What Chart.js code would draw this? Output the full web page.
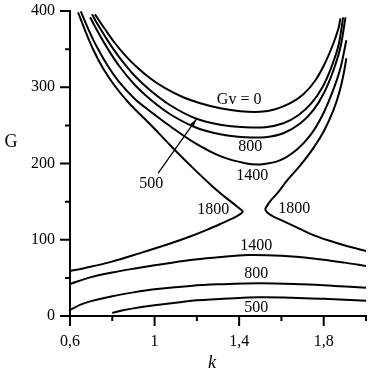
<!DOCTYPE html>
<html>
<head>
<meta charset="utf-8">
<script src="https://cdn.jsdelivr.net/npm/chart.js@4.4.0/dist/chart.umd.min.js"></script>
<style>
  body { margin: 0; background: #fff; }
</style>
</head>
<body>
<canvas id="myChart" width="372" height="371"></canvas>
<script>
// upper curves (U shape), k values and G values
const kGv0 = [0.718, 0.766, 0.813, 0.861, 0.917, 0.979, 1.05, 1.135, 1.216, 1.311, 1.405, 1.5, 1.571, 1.642, 1.704, 1.761, 1.808, 1.846, 1.87, 1.879];
const gGv0 = [395.6, 376, 357.7, 341.9, 326.2, 311.8, 298.7, 286.9, 279.1, 272.5, 268.6, 267.9, 271.2, 279.1, 290.8, 309.2, 332.8, 357.7, 377.3, 390.4];

const k500 = [0.704, 0.742, 0.79, 0.837, 0.908, 0.979, 1.074, 1.192, 1.311, 1.429, 1.524, 1.609, 1.68, 1.742, 1.794, 1.836, 1.87, 1.892];
const g500 = [395.6, 377.3, 356.3, 338, 314.4, 296.1, 276.4, 259.4, 250.9, 247.6, 247.6, 252.8, 263.3, 279.1, 300, 326.2, 355, 391.7];

const k800 = [0.695, 0.733, 0.78, 0.837, 0.908, 0.979, 1.074, 1.192, 1.311, 1.429, 1.524, 1.609, 1.69, 1.751, 1.803, 1.846, 1.879, 1.903];
const g800 = [391.7, 372.1, 349.8, 326.2, 302.6, 284.3, 264.6, 247.6, 238.4, 234.5, 234.5, 239.7, 252.8, 269.9, 293.5, 322.3, 352.4, 391.7];

const k1400 = [0.651, 0.685, 0.728, 0.78, 0.837, 0.908, 0.979, 1.074, 1.192, 1.311, 1.429, 1.51, 1.595, 1.675, 1.737, 1.794, 1.841, 1.879, 1.907];
const g1400 = [399.6, 377.3, 352.4, 327.5, 305.3, 284.3, 268.6, 248.9, 226.6, 209.6, 200.4, 199.1, 204.4, 218.8, 237.1, 263.3, 293.5, 324.9, 361.6];

// Gv = 1800 splits in two branches
const k1800a = [0.638, 0.671, 0.709, 0.756, 0.813, 0.884, 0.979, 1.083, 1.192, 1.273, 1.334, 1.382, 1.405, 1.417, 1.405, 1.377, 1.32, 1.244, 1.168, 1.074, 0.932, 0.79, 0.671, 0.6];
const g1800a = [398.3, 374.7, 349.8, 324.9, 301.3, 277.7, 251.5, 221.4, 191.3, 170.3, 155.9, 145.4, 140.2, 136.9, 133.6, 129, 121.8, 112.6, 104.2, 95, 82.5, 70.7, 62.9, 58.9];

const k1800b = [1.907, 1.893, 1.874, 1.846, 1.803, 1.751, 1.69, 1.628, 1.581, 1.547, 1.531, 1.524, 1.533, 1.562, 1.609, 1.68, 1.751, 1.832, 1.917, 2.0];
const g1800b = [338, 315.7, 293.5, 269.9, 243.7, 220.1, 197.8, 178.2, 161.1, 150.6, 144.1, 140.2, 135.6, 130.4, 124.5, 115.3, 106.1, 98.3, 91.1, 85.2];

// lower curves
const k1400low = [0.6, 0.7, 0.8, 0.9, 1.0, 1.17, 1.3, 1.44, 1.6, 1.75, 1.9, 2.0];
const g1400low = [42, 51, 57, 62, 66.5, 73.5, 77, 80, 79, 75.5, 70, 65.5];

const k800low = [0.6, 0.65, 0.7, 0.8, 0.9, 1.0, 1.17, 1.3, 1.5, 1.7, 1.85, 2.0];
const g800low = [8, 15, 19.5, 26, 31, 35, 39.5, 41.5, 43, 41.5, 39.5, 37];

const k500low = [0.8, 0.85, 0.9, 1.0, 1.1, 1.2, 1.35, 1.5, 1.65, 1.8, 2.0];
const g500low = [4, 7.5, 10, 14, 17.5, 20.5, 23, 24.5, 24, 22.5, 20];

// axis ticks
const xTicks = [0.6, 1, 1.4, 1.8];
const xMinor = [0.8, 1.2, 1.6, 2.0];
const yTicks = [0, 100, 200, 300, 400];
const yMinor = [50, 150, 250, 350];

// curve labels
const labelTexts = ['Gv = 0', '800', '1400', '500', '1800', '1800', '1400', '800', '500'];
const labelK = [1.40, 1.453, 1.462, 0.984, 1.277, 1.661, 1.481, 1.481, 1.481];
const labelG = [283, 221.4, 183.4, 172.9, 138.9, 140.2, 91.7, 55, 10.5];
const arrowK = [1.017, 1.197];
const arrowG = [187.4, 258];

const serif = '"Liberation Serif", "Times New Roman", serif';

function pts(ks, gs) {
  return ks.map((k, i) => ({ x: k, y: gs[i] }));
}

const curves = [
  [kGv0, gGv0], [k500, g500], [k800, g800], [k1400, g1400],
  [k1800a, g1800a], [k1800b, g1800b],
  [k1400low, g1400low], [k800low, g800low], [k500low, g500low]
];

const datasets = curves.map((c) => ({
  data: pts(c[0], c[1]),
  showLine: true,
  borderColor: '#000',
  borderWidth: 2,
  pointRadius: 0,
  tension: 0.35,
  fill: false
}));

// ticks, titles, labels and the arrow
const extras = {
  id: 'extras',
  afterDatasetsDraw(chart) {
    const ctx = chart.ctx;
    const xs = chart.scales.x;
    const ys = chart.scales.y;
    const area = chart.chartArea;
    ctx.save();
    ctx.strokeStyle = '#000';
    ctx.lineWidth = 2;
    ctx.beginPath();
    yTicks.forEach((v) => { const p = ys.getPixelForValue(v); ctx.moveTo(area.left - 10, p); ctx.lineTo(area.left, p); });
    yMinor.forEach((v) => { const p = ys.getPixelForValue(v); ctx.moveTo(area.left - 5, p); ctx.lineTo(area.left, p); });
    xTicks.forEach((v) => { const p = xs.getPixelForValue(v); ctx.moveTo(p, area.bottom); ctx.lineTo(p, area.bottom + 10); });
    xMinor.forEach((v) => { const p = xs.getPixelForValue(v); ctx.moveTo(p, area.bottom); ctx.lineTo(p, area.bottom + 5); });
    ctx.stroke();

    // curve labels
    ctx.fillStyle = '#000';
    ctx.font = '16px ' + serif;
    ctx.textAlign = 'center';
    ctx.textBaseline = 'middle';
    labelTexts.forEach((t, i) => {
      ctx.fillText(t, xs.getPixelForValue(labelK[i]), ys.getPixelForValue(labelG[i]));
    });

    // arrow to the 500 curve
    const x0 = xs.getPixelForValue(arrowK[0]), y0 = ys.getPixelForValue(arrowG[0]);
    const x1 = xs.getPixelForValue(arrowK[1]), y1 = ys.getPixelForValue(arrowG[1]);
    ctx.lineWidth = 1.3;
    ctx.beginPath();
    ctx.moveTo(x0, y0);
    ctx.lineTo(x1, y1);
    ctx.stroke();
    const a = Math.atan2(y1 - y0, x1 - x0);
    ctx.beginPath();
    ctx.moveTo(x1, y1);
    ctx.lineTo(x1 - 8 * Math.cos(a - 0.3), y1 - 8 * Math.sin(a - 0.3));
    ctx.lineTo(x1 - 8 * Math.cos(a + 0.3), y1 - 8 * Math.sin(a + 0.3));
    ctx.closePath();
    ctx.fill();

    // axis titles
    ctx.font = '18px ' + serif;
    ctx.fillText('G', 11, 142);
    ctx.font = 'italic 18px ' + serif;
    ctx.fillText('k', 212, 363);
    ctx.restore();
  }
};

const ch = new Chart(document.getElementById('myChart'), {
  type: 'scatter',
  data: { datasets: datasets },
  options: {
    responsive: false,
    animation: false,
    devicePixelRatio: 1,
    layout: { padding: { top: 11, right: 6, left: 0, bottom: 0 } },
    plugins: { legend: { display: false }, tooltip: { enabled: false } },
    scales: {
      x: {
        type: 'linear',
        min: 0.6,
        max: 2.0,
        grid: { display: false, drawTicks: false },
        border: { display: true, color: '#000', width: 2 },
        afterBuildTicks: (s) => { s.ticks = xTicks.map((v) => ({ value: v })); },
        afterFit: (s) => { s.height = 55; s.paddingLeft = 0; s.paddingRight = 0; },
        ticks: {
          padding: 16,
          color: '#000',
          font: { family: serif, size: 16 },
          maxRotation: 0,
          callback: (v) => String(v).replace('.', ',')
        }
      },
      y: {
        type: 'linear',
        min: 0,
        max: 400,
        grid: { display: false, drawTicks: false },
        border: { display: true, color: '#000', width: 2 },
        afterBuildTicks: (s) => { s.ticks = yTicks.map((v) => ({ value: v })); },
        afterFit: (s) => { s.width = 70; s.paddingTop = 0; s.paddingBottom = 0; },
        ticks: {
          padding: 15,
          color: '#000',
          font: { family: serif, size: 16 },
          callback: (v) => String(v)
        }
      }
    }
  },
  plugins: [extras]
});
</script>
</body>
</html>
